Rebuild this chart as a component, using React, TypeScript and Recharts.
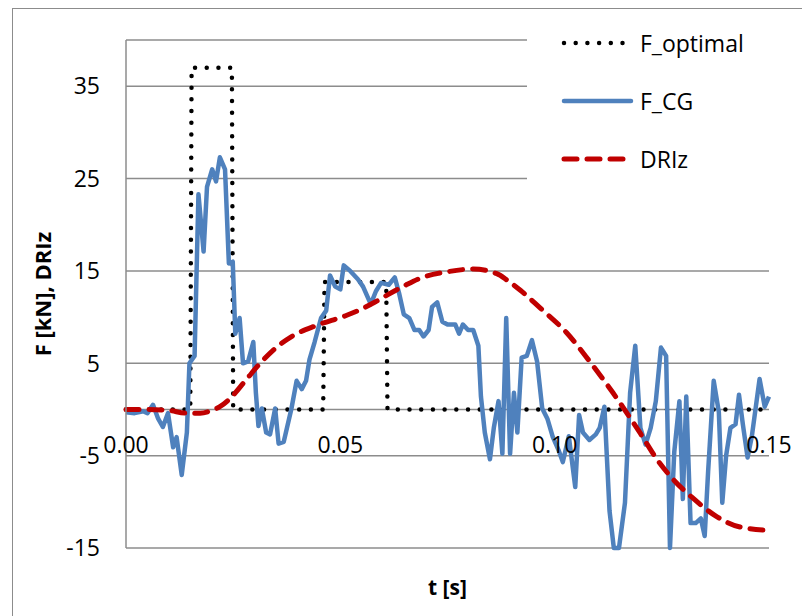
import React from 'react';
import { LineChart, Line, XAxis, YAxis, CartesianGrid, ReferenceLine } from 'recharts';

// [t (s), force (kN)]
const fOptimal: [number, number][] = [
  [0, 0], [0.015, 0], [0.0153, 37], [0.0247, 37], [0.025, 0], [0.046, 0],
  [0.0463, 13.8], [0.0607, 13.8], [0.061, 0], [0.15, 0],
];

const fCG: [number, number][] = [
  [0, -0.3], [0.002, -0.4], [0.004, -0.2], [0.005, -0.4], [0.0063, 0.5], [0.0075, -1.0],
  [0.0086, -1.9], [0.0098, -0.4], [0.011, -4.1], [0.0118, -3.0], [0.013, -7.1], [0.0142, -2.5],
  [0.0148, 5.0], [0.016, 5.8], [0.0169, 23.3], [0.0181, 17.1], [0.0189, 24.1], [0.0201, 26.0],
  [0.021, 24.7], [0.0219, 27.3], [0.0231, 26.0], [0.024, 15.8], [0.0249, 16.0], [0.0255, 8.2],
  [0.0265, 9.9], [0.0273, 5.0], [0.0285, 5.2], [0.0297, 7.3], [0.0303, 1.8], [0.0309, -1.8],
  [0.0317, 0.1], [0.0327, -2.5], [0.0336, -2.7], [0.0348, 0.1], [0.0356, -3.7], [0.0368, -3.5],
  [0.0386, 0.1], [0.0398, 3.1], [0.041, 2.2], [0.042, 3.1], [0.0428, 5.4], [0.044, 7.3],
  [0.0455, 9.9], [0.0467, 10.7], [0.0476, 14.5], [0.0488, 13.3], [0.05, 13.0], [0.0508, 15.6],
  [0.0523, 15.0], [0.0541, 14.1], [0.0553, 13.3], [0.0571, 11.4], [0.0583, 12.8], [0.0595, 13.7],
  [0.0613, 13.5], [0.0627, 14.3], [0.0637, 12.6], [0.0648, 10.3], [0.0661, 9.9], [0.0673, 8.6],
  [0.0684, 8.6], [0.0694, 7.9], [0.0706, 8.6], [0.0714, 11.1], [0.0726, 11.6], [0.0738, 9.5],
  [0.075, 9.2], [0.0768, 9.2], [0.0777, 8.2], [0.0786, 9.2], [0.0798, 8.6], [0.081, 8.6],
  [0.0822, 6.9], [0.0828, 1.4], [0.0837, -2.5], [0.0849, -5.4], [0.0858, -2.0], [0.0869, 0.9],
  [0.0878, -4.8], [0.0887, 9.9], [0.0896, -4.8], [0.0905, 1.8], [0.0913, -2.5], [0.0923, 5.6],
  [0.0935, 5.8], [0.0947, 7.5], [0.0959, 5.2], [0.0971, 0.1], [0.0983, -1.0], [0.0995, -2.9],
  [0.1009, -4.4], [0.1019, -5.7], [0.1033, -2.9], [0.1048, -8.4], [0.1057, -0.6], [0.1066, -2.5],
  [0.1081, -3.3], [0.1096, -2.7], [0.1105, -2.0], [0.1116, 0.3], [0.1128, -11.0], [0.1138, -15],
  [0.115, -15], [0.1164, -10.1], [0.1176, 1.8], [0.1188, 6.9], [0.12, -2.0], [0.1212, -3.8],
  [0.1224, -2.0], [0.1236, 0.9], [0.1248, 6.7], [0.126, 5.8], [0.1269, -15], [0.1279, -4.6],
  [0.1291, 0.9], [0.1299, -9.7], [0.1307, 1.4], [0.1317, -12.3], [0.1329, -12.3], [0.1341, -11.8],
  [0.135, -13.7], [0.1358, -6.7], [0.1371, 3.1], [0.1383, -0.3], [0.1391, -10.1], [0.14, -5.0],
  [0.141, -2.0], [0.1422, -1.6], [0.143, 1.6], [0.1439, -1.6], [0.145, -5.2], [0.146, -2.9],
  [0.1478, 3.3], [0.149, 0.3], [0.15, 1.4],
];

const dRIz: [number, number][] = [
  [0, 0], [0.005, 0], [0.01, -0.1], [0.014, -0.4], [0.0173, -0.4], [0.02, -0.1], [0.0219, 0.3],
  [0.0243, 1.2], [0.028, 3.2], [0.0313, 5.0], [0.0343, 6.4], [0.039, 8.0], [0.0445, 9.1],
  [0.0515, 10.2], [0.0546, 10.8], [0.058, 11.6], [0.061, 12.4], [0.065, 13.4], [0.0686, 14.2],
  [0.0749, 14.9], [0.081, 15.2], [0.0865, 14.7], [0.0889, 14.0], [0.092, 12.9], [0.0966, 11.0],
  [0.1028, 8.3], [0.108, 5.3], [0.1136, 1.8], [0.12, -2.6], [0.124, -5.5], [0.1277, -7.6],
  [0.132, -9.5], [0.1378, -11.6], [0.143, -12.7], [0.15, -13.1],
];

const xTicks = [0, 0.05, 0.1, 0.15];
const yTicks = [-15, -5, 5, 15, 25, 35];

const FONT = "'Open Sans', sans-serif";
const GRID = '#8c8c8c';
const BLUE = '#4f81bd';
const RED = '#c00000';

const toRows = (pts: [number, number][]) => pts.map(([t, v]) => ({ t, v }));

const XTick = (props: any) => {
  const { x, y, payload } = props;
  return (
    <text x={x} y={y} dy={-95} textAnchor="middle" fontFamily={FONT} fontSize={23} fill="#000">
      {Number(payload.value).toFixed(2)}
    </text>
  );
};

const YTick = (props: any) => {
  const { x, y, payload } = props;
  return (
    <text x={x} y={y} dy="0.36em" textAnchor="end" fontFamily={FONT} fontSize={23} fill="#000">
      {payload.value}
    </text>
  );
};

const legendItems = [
  { name: 'F_optimal', color: '#000', dash: '0 11.7', width: 4.5 },
  { name: 'F_CG', color: BLUE, dash: undefined, width: 4.5 },
  { name: 'DRIz', color: RED, dash: '13 10', width: 5 },
];

// legend sits on top of the plot with a white box, hiding the grid behind it (like Excel)
const ChartLegend = () => (
  <div style={{
    position: 'absolute', left: 527, top: 12, width: 275, height: 200, background: '#fff',
    fontFamily: FONT, fontSize: 23, color: '#000', paddingTop: 2, boxSizing: 'border-box'
  }}>
    {legendItems.map(item => (
      <div key={item.name} style={{ display: 'flex', alignItems: 'center', height: 58 }}>
        <svg width={113} height={12} style={{ flexShrink: 0 }}>
          <line x1={37} x2={104} y1={6} y2={6} stroke={item.color} strokeWidth={item.width}
            strokeDasharray={item.dash} strokeLinecap="round" />
        </svg>
        <span style={{ lineHeight: '24px' }}>{item.name}</span>
      </div>
    ))}
  </div>
);

const App: React.FC = () => {
  return (
    <div style={{ position: 'fixed', left: 0, top: 0, width: 802, height: 616, overflow: 'hidden', background: '#fff' }}>
      <div style={{
        position: 'absolute', left: 12, top: 8, width: 1000, height: 1000,
        border: `1.5px solid ${GRID}`, boxSizing: 'border-box'
      }} />
      <LineChart width={802} height={616} margin={{ top: 40, right: 33, left: 66, bottom: 38 }}>
        <CartesianGrid vertical={false} stroke={GRID} strokeWidth={1.5} />
        <XAxis
          dataKey="t"
          type="number"
          domain={[0, 0.15]}
          ticks={xTicks}
          height={30}
          axisLine={false}
          tickLine={false}
          tickSize={0}
          tickMargin={0}
          tick={<XTick />}
          label={{
            content: (p: any) => {
              const vb = p.viewBox;
              return (
                <text x={vb.x + vb.width / 2} y={vb.y + 47} textAnchor="middle" fontFamily={FONT}
                  fontSize={21} fontWeight="bold" fill="#000">t [s]</text>
              );
            }
          }}
        />
        <YAxis
          type="number"
          domain={[-15, 40]}
          ticks={yTicks}
          width={60}
          axisLine={{ stroke: GRID, strokeWidth: 1.5 }}
          tickLine={false}
          tickSize={0}
          tickMargin={26}
          tick={<YTick />}
          label={{
            content: (p: any) => {
              const vb = p.viewBox;
              const cx = vb.x - 24;
              const cy = vb.y + vb.height / 2;
              return (
                <text x={cx} y={cy} transform={`rotate(-90 ${cx} ${cy})`} textAnchor="middle"
                  dominantBaseline="central" fontFamily={FONT} fontSize={22} fontWeight="bold" fill="#000">
                  F [kN], DRIz
                </text>
              );
            }
          }}
        />
        <ReferenceLine y={0} stroke={GRID} strokeWidth={1.5} />
        <Line data={toRows(fOptimal)} dataKey="v" name="F_optimal" type="linear" stroke="#000"
          strokeWidth={4.5} strokeDasharray="0 11.7" strokeLinecap="round" dot={false} activeDot={false}
          isAnimationActive={false} />
        <Line data={toRows(fCG)} dataKey="v" name="F_CG" type="linear" stroke={BLUE}
          strokeWidth={4.5} strokeLinejoin="round" dot={false} activeDot={false} isAnimationActive={false} />
        <Line data={toRows(dRIz)} dataKey="v" name="DRIz" type="monotone" stroke={RED}
          strokeWidth={5} strokeDasharray="13 10" strokeLinecap="round" dot={false} activeDot={false}
          isAnimationActive={false} />
      </LineChart>
      <ChartLegend />
    </div>
  );
};

export default App;
